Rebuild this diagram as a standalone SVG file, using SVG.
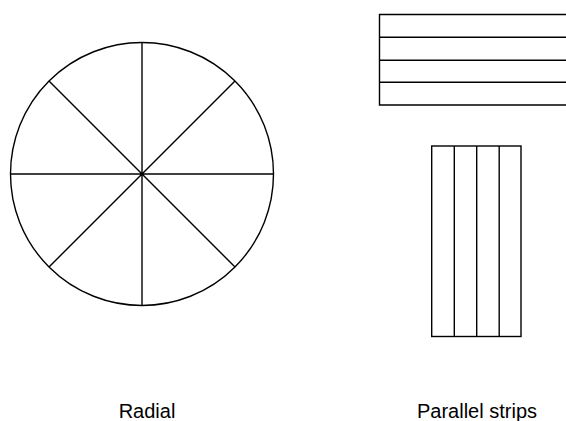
<svg xmlns="http://www.w3.org/2000/svg" width="566" height="421" viewBox="0 0 566 421">
<style>
.ln{stroke:#000;stroke-width:1.4;fill:none}
.lbl{font-family:"Liberation Sans",Arial,sans-serif;font-size:20px;fill:#000}
</style>
<rect width="566" height="421" fill="#fff"/>
<g id="radial">
<circle class="ln" cx="142" cy="174" r="131.5"/>
<line class="ln" x1="142" y1="42.5" x2="142" y2="305.5"/>
<line class="ln" x1="10.5" y1="174" x2="273.5" y2="174"/>
<line class="ln" x1="49" y1="81" x2="235" y2="267"/>
<line class="ln" x1="235" y1="81" x2="49" y2="267"/>
<circle cx="142" cy="174" r="1.8" fill="#000"/>
</g>
<g id="horizontal-strips">
<path class="ln" d="M570 14.5 H379.5 V105 H570"/>
<line class="ln" x1="379.5" y1="37.3" x2="570" y2="37.3"/>
<line class="ln" x1="379.5" y1="60.2" x2="570" y2="60.2"/>
<line class="ln" x1="379.5" y1="82.3" x2="570" y2="82.3"/>
</g>
<g id="vertical-strips">
<rect class="ln" x="431.7" y="146" width="89.3" height="190.5"/>
<line class="ln" x1="454.3" y1="146" x2="454.3" y2="336.5"/>
<line class="ln" x1="476.7" y1="146" x2="476.7" y2="336.5"/>
<line class="ln" x1="499.2" y1="146" x2="499.2" y2="336.5"/>
</g>
<g id="labels">
<text class="lbl" x="147" y="418" text-anchor="middle">Radial</text>
<text class="lbl" x="477" y="418" text-anchor="middle">Parallel strips</text>
</g>
</svg>
